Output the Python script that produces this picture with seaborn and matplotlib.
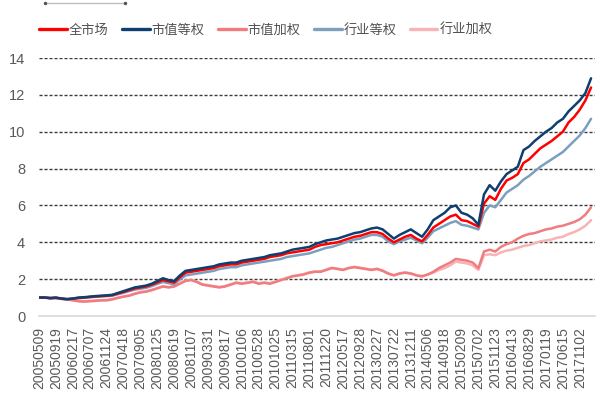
import numpy as np
import pandas as pd
import seaborn as sns
import matplotlib
matplotlib.use("Agg")
import matplotlib.pyplot as plt
from matplotlib.lines import Line2D

# ---- data -------------------------------------------------------------
tick_labels = [
    "20050509", "20050919", "20060217", "20060707", "20061124", "20070418",
    "20070905", "20080125", "20080619", "20081107", "20090331", "20090817",
    "20100106", "20100528", "20101025", "20110315", "20110801", "20111220",
    "20120517", "20120928", "20130227", "20130722", "20131211", "20140506",
    "20140918", "20150209", "20150702", "20151123", "20160413", "20160829",
    "20170119", "20170615", "20171102",
]

full_market = [
    1.0, 1.0, 0.97, 0.99, 0.94, 0.91, 0.94, 0.98, 1.0, 1.03,
    1.06, 1.08, 1.1, 1.13, 1.22, 1.3, 1.4, 1.5, 1.55, 1.6,
    1.7, 1.82, 1.95, 1.88, 1.82, 2.1, 2.35, 2.4, 2.45, 2.5,
    2.55, 2.6, 2.7, 2.75, 2.8, 2.8, 2.9, 2.95, 3.0, 3.05,
    3.1, 3.2, 3.25, 3.3, 3.4, 3.45, 3.5, 3.55, 3.6, 3.75,
    3.85, 3.9, 3.95, 4.0, 4.1, 4.2, 4.3, 4.35, 4.45, 4.55,
    4.55, 4.45, 4.2, 4.0, 4.15, 4.3, 4.4, 4.2, 4.05, 4.4,
    4.8, 5.0, 5.2, 5.4, 5.5, 5.2, 5.15, 5.0, 4.85, 6.1,
    6.5, 6.3, 6.9, 7.35, 7.5, 7.7, 8.3, 8.5, 8.8, 9.1,
    9.3, 9.5, 9.75, 10.0, 10.5, 10.8, 11.2, 11.7, 12.4,
]

cap_equal = [
    1.0, 1.0, 0.97, 1.0, 0.95, 0.92, 0.95, 1.0, 1.02, 1.05,
    1.08, 1.1, 1.12, 1.15, 1.25, 1.35, 1.45, 1.55, 1.6, 1.65,
    1.75, 1.9, 2.05, 1.95, 1.9, 2.2, 2.45, 2.5, 2.55, 2.6,
    2.65, 2.7, 2.8, 2.85, 2.9, 2.9, 3.0, 3.05, 3.1, 3.15,
    3.2, 3.3, 3.35, 3.4, 3.5, 3.6, 3.65, 3.7, 3.75, 3.9,
    4.0, 4.1, 4.15, 4.2, 4.3, 4.4, 4.5, 4.55, 4.65, 4.75,
    4.8, 4.7, 4.45, 4.2, 4.4, 4.55, 4.7, 4.5, 4.3, 4.7,
    5.2, 5.4, 5.6, 5.9, 6.0, 5.6, 5.5, 5.3, 4.95, 6.6,
    7.1, 6.8, 7.3, 7.7, 7.9, 8.1, 9.0, 9.2, 9.5, 9.75,
    10.0, 10.2, 10.5, 10.7, 11.1, 11.4, 11.7, 12.1, 12.9,
]

cap_weighted = [
    1.0, 1.0, 0.98, 0.97, 0.93, 0.9, 0.85, 0.8, 0.78, 0.8,
    0.82, 0.85, 0.85, 0.9, 0.98, 1.05, 1.1, 1.2, 1.28, 1.32,
    1.4, 1.5, 1.6, 1.55, 1.6, 1.75, 1.9, 1.95, 1.85, 1.7,
    1.65, 1.6, 1.55, 1.6, 1.7, 1.8, 1.75, 1.8, 1.85, 1.75,
    1.8, 1.75, 1.85, 1.95, 2.05, 2.15, 2.2, 2.25, 2.35, 2.4,
    2.4, 2.5, 2.6, 2.55, 2.5, 2.6, 2.65, 2.6, 2.55, 2.5,
    2.55, 2.45, 2.3, 2.2, 2.3, 2.35, 2.3, 2.2, 2.15, 2.25,
    2.4, 2.6, 2.75, 2.9, 3.1, 3.05, 3.0, 2.9, 2.6, 3.5,
    3.6, 3.5, 3.75, 3.9, 4.0, 4.2, 4.35, 4.45, 4.5, 4.6,
    4.7, 4.75, 4.85, 4.9, 5.0, 5.1, 5.25, 5.5, 5.9,
]

ind_equal = [
    1.0, 1.0, 0.96, 0.98, 0.93, 0.9, 0.93, 0.97, 0.99, 1.02,
    1.04, 1.06, 1.08, 1.1, 1.18, 1.26, 1.35, 1.43, 1.48, 1.53,
    1.62, 1.74, 1.85, 1.78, 1.72, 1.98, 2.2, 2.25, 2.3, 2.35,
    2.4, 2.45, 2.55, 2.6, 2.65, 2.65, 2.75, 2.8, 2.85, 2.9,
    2.95, 3.0, 3.05, 3.1, 3.2, 3.25, 3.3, 3.35, 3.4, 3.5,
    3.6, 3.7, 3.75, 3.85, 3.95, 4.05, 4.15, 4.2, 4.3, 4.4,
    4.4, 4.3, 4.05, 3.9, 4.05, 4.15, 4.25, 4.1, 3.95, 4.25,
    4.6, 4.75, 4.9, 5.05, 5.15, 4.95, 4.9, 4.8, 4.7, 5.6,
    6.0, 5.9, 6.3, 6.7, 6.9, 7.1, 7.4, 7.6, 7.85, 8.1,
    8.3, 8.5, 8.7, 8.9, 9.2, 9.5, 9.8, 10.2, 10.7,
]

ind_weighted = [
    1.0, 1.0, 0.98, 0.97, 0.94, 0.9, 0.86, 0.82, 0.8, 0.82,
    0.84, 0.86, 0.87, 0.92, 1.0, 1.06, 1.12, 1.22, 1.3, 1.35,
    1.42, 1.52, 1.62, 1.57, 1.62, 1.78, 1.92, 1.97, 1.88, 1.72,
    1.68, 1.62, 1.58, 1.62, 1.72, 1.82, 1.78, 1.82, 1.88, 1.78,
    1.82, 1.78, 1.88, 1.97, 2.07, 2.17, 2.22, 2.28, 2.37, 2.42,
    2.42, 2.52, 2.62, 2.57, 2.52, 2.62, 2.67, 2.62, 2.57, 2.52,
    2.57, 2.47, 2.32, 2.22, 2.32, 2.37, 2.32, 2.22, 2.17, 2.25,
    2.35, 2.5, 2.6, 2.75, 2.95, 2.9, 2.85, 2.75, 2.5, 3.3,
    3.35, 3.3, 3.45, 3.55, 3.6, 3.7, 3.8, 3.85, 3.95, 4.05,
    4.1, 4.15, 4.25, 4.3, 4.45, 4.55, 4.7, 4.9, 5.2,
]

series_names = ["全市场", "市值等权", "市值加权", "行业等权", "行业加权"]
series_values = [full_market, cap_equal, cap_weighted, ind_equal, ind_weighted]
colors = ["#FF0000", "#0E3F70", "#F07C80", "#7C9FBE", "#F7B3B5"]
y_ticks = [0, 2, 4, 6, 8, 10, 12, 14]

# ---- build long table -------------------------------------------------
rows = []
for name, vals in zip(series_names, series_values):
    for j, v in enumerate(vals):
        rows.append({"idx": j, "value": v, "series": name})
df = pd.DataFrame(rows)

# ---- plot -------------------------------------------------------------
sns.set_theme(style="white")
plt.rcParams["font.family"] = ["Liberation Sans", "Noto Sans CJK SC", "DejaVu Sans"]

fig = plt.figure(figsize=(6.03, 3.96), dpi=100)
ax = fig.add_axes([0.0647, 0.202, 0.9220, 0.6515])

# draw order: lighter/lower series first so dark ones sit on top
order = ["行业加权", "市值加权", "行业等权", "全市场", "市值等权"]
pal = dict(zip(series_names, colors))
for name in order:
    sns.lineplot(data=df[df["series"] == name], x="idx", y="value",
                 color=pal[name], linewidth=1.8, ax=ax, legend=False)

n = len(full_market)
ax.set_xlim(0, n - 1 + 0.7)
ax.set_ylim(0, 14)
ax.set_yticks(y_ticks)
ax.set_yticklabels([str(t) for t in y_ticks], color="#595959", fontsize=10.5)
step = 3
ax.set_xticks(list(range(0, step * len(tick_labels), step)))
ax.set_xticklabels(tick_labels, rotation=90, color="#595959", fontsize=10)
ax.tick_params(axis="x", length=0, pad=8)
ax.tick_params(axis="y", length=0, pad=10)
ax.set_xlabel("")
ax.set_ylabel("")

for t in y_ticks[1:]:
    ax.axhline(t, color="#3a3a3a", linewidth=1.0, linestyle=(0, (2.2, 1.4)), zorder=0)

for s in ["top", "right", "left"]:
    ax.spines[s].set_visible(False)
ax.spines["bottom"].set_color("#d9d9d9")
ax.spines["bottom"].set_linewidth(1.2)

handles = [Line2D([0], [0], color=pal[nm], linewidth=2.4) for nm in series_names]
fig.legend(handles, series_names, loc="center", bbox_to_anchor=(0.441, 0.924),
           ncol=5, frameon=False, fontsize=9.5, handlelength=2.1,
           handletextpad=0.15, columnspacing=1.0, labelcolor="#505050")

# small decorative line at the top-left
fig.add_artist(Line2D([45 / 603, 125 / 603], [1 - 3 / 396, 1 - 3 / 396],
                      color="#bfbfbf", linewidth=1.0, marker="o", markersize=1.5,
                      markevery=[0, 1], markerfacecolor="#555555",
                      markeredgecolor="#555555"))

fig.savefig("out.png", dpi=100)
